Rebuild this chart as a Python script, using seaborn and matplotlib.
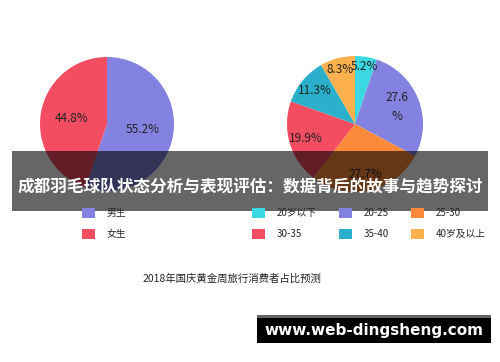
import matplotlib.pyplot as plt
import seaborn as sns
from matplotlib.patches import Rectangle

sns.set_theme(style="white")
plt.rcParams["font.family"] = ["Noto Sans CJK SC", "DejaVu Sans"]

# 性别占比
gender_labels = ["男生", "女生"]
gender_values = [55.2, 44.8]
gender_colors = ["#8482e0", "#f24d61"]

# 年龄段占比
age_labels = ["20岁以下", "20-25", "25-30", "30-35", "35-40", "40岁及以上"]
age_values = [5.2, 27.6, 27.7, 19.9, 11.3, 8.3]
age_colors = ["#3ad9e2", "#8482e0", "#fd8a3a", "#f24d61", "#2ab0cb", "#feb04e"]

title = "成都羽毛球队状态分析与表现评估：数据背后的故事与趋势探讨"
subtitle = "2018年国庆黄金周旅行消费者占比预测"
watermark = "www.web-dingsheng.com"

W, H = 500, 362
fig = plt.figure(figsize=(W / 100, H / 100), dpi=100)


def px_axes(cx, cy, r):
    return fig.add_axes([(cx - r) / W, 1 - (cy + r) / H, 2 * r / W, 2 * r / H])


# 左：性别饼图
ax1 = px_axes(107, 124, 67)
w1, t1, a1 = ax1.pie(gender_values, colors=gender_colors, startangle=90, counterclock=False,
                     autopct="%.1f%%", pctdistance=0.54, wedgeprops=dict(linewidth=0),
                     textprops=dict(fontsize=8.5, color="#222222"))
ax1.set_xlim(-1, 1)
ax1.set_ylim(-1, 1)

# 右：年龄饼图
ax2 = px_axes(355, 124, 68)
w2, t2, a2 = ax2.pie(age_values, colors=age_colors, startangle=90, counterclock=False,
                     autopct="%.1f%%", pctdistance=0.76, wedgeprops=dict(linewidth=0),
                     textprops=dict(fontsize=8.5, color="#222222"))
# 小扇区标签外移，27.6% 换行
for i, k in [(0, 1.12), (5, 1.1), (1, 0.88)]:
    x, y = a2[i].get_position()
    a2[i].set_position((x * k, y * k))
a2[1].set_text("27.6\n%")
a2[1].set_linespacing(1.6)
ax2.set_xlim(-1, 1)
ax2.set_ylim(-1, 1)

# 图例
leg_kw = dict(frameon=False, fontsize=7, handlelength=1.35, handleheight=1.25,
              handletextpad=1.2, labelspacing=1.05, borderpad=0, borderaxespad=0)
fig.legend(w1, gender_labels, loc="upper left",
           bbox_to_anchor=(81.5 / W, 1 - 208 / H), **leg_kw)
order = [0, 3, 1, 4, 2, 5]
fig.legend([w2[i] for i in order], [age_labels[i] for i in order], loc="upper left",
           bbox_to_anchor=(251.5 / W, 1 - 208 / H), ncol=3, columnspacing=2.3, **leg_kw)

fig.text(232 / W, 1 - 279 / H, subtitle, ha="center", va="center", fontsize=7.5,
         color="#222222")

# 标题横幅
fig.add_artist(Rectangle((12 / W, 1 - 211 / H), 476 / W, 60 / H, transform=fig.transFigure,
                         facecolor="black", alpha=0.6, linewidth=0, zorder=5))
fig.text(250 / W, 1 - 187 / H, title, ha="center", va="center", fontsize=12.0,
         color="white", fontweight="bold", zorder=6)

# 水印
fig.add_artist(Rectangle((257 / W, 1 - 318 / H), 234 / W, 3 / H, transform=fig.transFigure,
                         facecolor="#666666", linewidth=0, zorder=5))
fig.add_artist(Rectangle((257 / W, 1 - 343 / H), 234 / W, 25 / H, transform=fig.transFigure,
                         facecolor="black", linewidth=0, zorder=5))
fig.text(374 / W, 1 - 331 / H, watermark, ha="center", va="center", fontsize=11,
         color="white", fontweight="bold", family="DejaVu Sans", zorder=6)

fig.savefig("out.png", dpi=100)
